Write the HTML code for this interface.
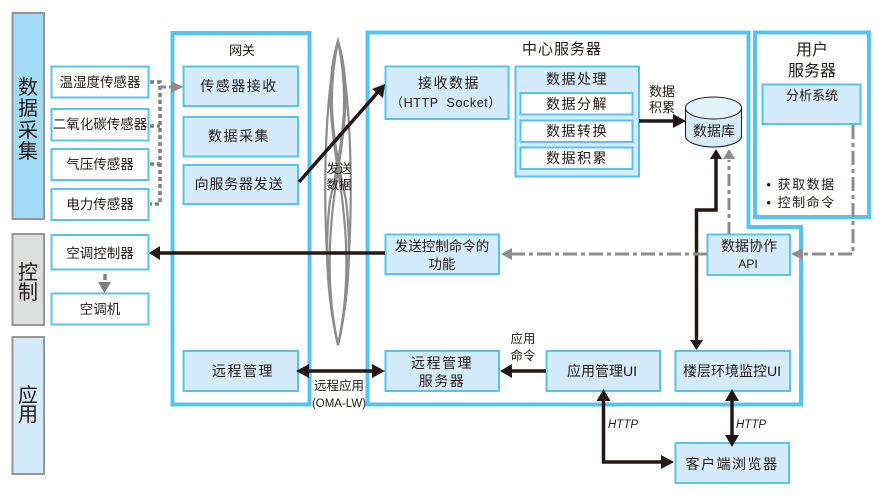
<!DOCTYPE html>
<html><head><meta charset="utf-8"><style>
html,body{margin:0;padding:0;background:#fff}
svg{display:block}
text{font-family:"Liberation Sans","WenQuanYi Zen Hei","Noto Sans CJK SC",sans-serif;fill:#231815;text-anchor:middle;font-size:14px}
.b{fill:#d3ebfa;stroke:#58c3f0;stroke-width:2}
.w{fill:#fff;stroke:#58c3f0;stroke-width:2}
.o{fill:none;stroke:#56c4f3;stroke-width:4}
.s{stroke:#969696;stroke-width:2}
.k{fill:none;stroke:#231815;stroke-width:3.500}
.g{fill:none;stroke:#8c8c8c;stroke-width:3}
.af{fill:#231815}.ag{fill:#8c8c8c}
.l{letter-spacing:1.5px}
.st{font-size:20px}
</style></head><body>
<svg width="886" height="500" viewBox="0 0 886 500" xmlns="http://www.w3.org/2000/svg">
<rect width="886" height="500" fill="#fff"/>
<!-- strips -->
<rect class="s" x="12.500" y="13" width="31.500" height="206" fill="#a3daf6"/>
<rect class="s" x="12.500" y="234" width="31.500" height="91" fill="#dcdddd"/>
<rect class="s" x="12.500" y="337" width="31.500" height="137" fill="#d3ebfa"/>
<text class="st" x="28" y="94">数</text><text class="st" x="28" y="115">据</text><text class="st" x="28" y="137">采</text><text class="st" x="28" y="158">集</text>
<text class="st" x="28" y="279">控</text><text class="st" x="28" y="299">制</text>
<text class="st" x="28" y="402">应</text><text class="st" x="28" y="421">用</text>
<!-- outer frames -->
<rect class="o" x="172.500" y="33" width="137" height="371.500"/>
<path class="o" d="M367.500 32.500H748.500V227H801V404.500H367.500Z"/>
<rect class="o" x="755" y="32.500" width="114" height="184.500"/>
<!-- lens -->
<g fill="none" stroke="#8c8c8c" stroke-width="2.200">
<path d="M338 41C320 110 322 280 338 345C354 280 356 110 338 41Z"/>
<path d="M338 41C326 80 330 120 338 170C346 220 352 280 338 345C324 280 330 220 338 170C346 120 350 80 338 41Z"/>
<path d="M338 41C328 90 330 130 346 200C353 260 346 310 338 345C330 310 323 260 330 200C346 130 348 90 338 41Z"/>
</g>
<!-- left boxes -->
<rect class="w" x="51.500" y="66.500" width="97" height="31"/>
<rect class="w" x="51.500" y="109" width="97" height="31.500"/>
<rect class="w" x="51.500" y="149" width="97" height="31"/>
<rect class="w" x="51.500" y="189" width="97" height="31"/>
<rect class="w" x="51.500" y="235" width="97" height="34.500"/>
<rect class="w" x="51.500" y="293.500" width="97" height="31"/>
<text x="100" y="87" style="font-size:13.500px">温湿度传感器</text>
<text x="100" y="129" style="font-size:13.500px">二氧化碳传感器</text>
<text x="100" y="169" style="font-size:13.500px">气压传感器</text>
<text x="100" y="209" style="font-size:13.500px">电力传感器</text>
<text x="100" y="258" style="font-size:13.500px">空调控制器</text>
<text x="100" y="314" style="font-size:13.500px">空调机</text>
<!-- gateway boxes -->
<text x="242" y="55" style="font-size:13px">网关</text>
<rect class="b" x="183.500" y="66.500" width="114.500" height="39.500"/>
<rect class="b" x="183.500" y="117" width="114.500" height="39.500"/>
<rect class="b" x="183.500" y="165" width="114.500" height="39"/>
<rect class="b" x="183.500" y="351" width="114.500" height="40"/>
<text x="239" y="91" class="l">传感器接收</text>
<text x="239" y="141" class="l">数据采集</text>
<text x="239" y="189" style="letter-spacing:.8px">向服务器发送</text>
<text x="243" y="376" class="l">远程管理</text>
<!-- center -->
<text x="562" y="54" style="font-size:15px;letter-spacing:1px">中心服务器</text>
<rect class="b" x="385.500" y="66.500" width="123" height="52.500"/>
<text x="449" y="88" class="l">接收数据</text>
<text x="446" y="107" style="font-size:12.500px;letter-spacing:.6px" xml:space="preserve">（HTTP  Socket）</text>
<rect class="b" x="515.500" y="66.500" width="123.500" height="110"/>
<text x="577" y="84" class="l">数据处理</text>
<rect class="w" x="520.500" y="93" width="112" height="21.500"/>
<rect class="w" x="520.500" y="120.500" width="112" height="21.500"/>
<rect class="w" x="520.500" y="147.500" width="112" height="21.500"/>
<text x="577" y="109" class="l">数据分解</text>
<text x="577" y="136" class="l">数据转换</text>
<text x="577" y="163" class="l">数据积累</text>
<text x="662" y="96" style="font-size:13px">数据</text>
<text x="662" y="112" style="font-size:13px">积累</text>
<!-- db -->
<path d="M685.500 108V136C685.500 142 698 147 713.500 147C729 147 741.500 142 741.500 136V108Z" fill="#d3ebfa" stroke="#231815" stroke-width="1"/>
<ellipse cx="713.500" cy="108" rx="28" ry="11" fill="#e3f3fc" stroke="#231815" stroke-width="1"/>
<text x="714" y="136" style="font-size:14px">数据库</text>
<!-- user server -->
<text x="812" y="55" style="font-size:16px">用户</text>
<text x="812" y="76" style="font-size:16px">服务器</text>
<rect class="b" x="762.500" y="84.500" width="98" height="39.500"/>
<text x="812" y="100" style="font-size:13px">分析系统</text>
<text x="801" y="189" style="font-size:13px" class="l">• 获取数据</text>
<text x="801" y="207" style="font-size:13px" class="l">• 控制命令</text>
<!-- lower center -->
<rect class="b" x="385.500" y="234.500" width="113.500" height="39.500"/>
<text x="442" y="251" style="font-size:13.500px">发送控制命令的</text>
<text x="442" y="269" style="font-size:13.500px">功能</text>
<rect class="b" x="707.500" y="234.500" width="82.500" height="40.500"/>
<text x="749" y="251" style="font-size:14px">数据协作</text>
<text x="748" y="268" style="font-size:12px">API</text>
<rect class="b" x="385.500" y="351" width="113.500" height="40"/>
<text x="442" y="368" class="l">远程管理</text>
<text x="442" y="386" class="l">服务器</text>
<rect class="b" x="546.500" y="351" width="113.500" height="40"/>
<text x="602" y="376" style="font-size:14px">应用管理UI</text>
<rect class="b" x="675.500" y="351" width="114.500" height="40"/>
<text x="732" y="376" style="font-size:14px">楼层环境监控UI</text>
<rect class="b" x="675.500" y="443" width="113.500" height="40"/>
<text x="732" y="469" class="l">客户端浏览器</text>
<!-- labels -->
<text x="339" y="173" style="font-size:12.500px">发送</text>
<text x="339" y="189" style="font-size:12.500px">数据</text>
<text x="339" y="390" style="font-size:12.500px">远程应用</text>
<text x="339" y="407" style="font-size:11.500px">(OMA-LW)</text>
<text x="523" y="343" style="font-size:12.500px">应用</text>
<text x="523" y="360" style="font-size:12.500px">命令</text>
<text x="623" y="428" style="font-size:11.500px;font-style:italic">HTTP</text>
<text x="751" y="428" style="font-size:11.500px;font-style:italic">HTTP</text>
<!-- dotted sensors -->
<g fill="none" stroke="#7f7f7f" stroke-width="3.500" stroke-dasharray="4 3">
<path d="M150 82H160V204H150"/>
<path d="M150 126H160"/><path d="M150 164H160"/>
</g>
<path d="M160 87H172" stroke="#8c8c8c" stroke-width="3" stroke-dasharray="6 3" fill="none"/>
<polygon class="ag" points="183,87 171,81 171,93"/>
<!-- air conditioner arrow -->
<path d="M105 274V280" stroke="#7f7f7f" stroke-width="3.500" fill="none"/>
<polygon fill="#7f7f7f" points="98,282 111,282 104.500,293"/>
<!-- black arrows -->
<path class="k" d="M299 182L378 92"/>
<polygon class="af" points="385,84 383,98 372,89"/>
<path class="k" d="M158 253H385"/>
<polygon class="af" points="149,253 160,246 160,260"/>
<path class="k" d="M305 371H376"/>
<polygon class="af" points="296,371 309,364 309,378"/>
<polygon class="af" points="385,371 372,364 372,378"/>
<path class="k" d="M639 121H676"/>
<polygon class="af" points="686,121 673,114 673,128"/>
<path class="k" d="M716 156V210H696.500V343"/>
<polygon class="af" points="716,149 710,159 722,159"/>
<polygon class="af" points="696.500,350 690,340 703,340"/>
<path class="k" d="M510 371H546"/>
<polygon class="af" points="500,371 512,364 512,378"/>
<path class="k" d="M603.500 400V462H665"/>
<polygon class="af" points="603.500,389 596.500,401 610.500,401"/>
<polygon class="af" points="674,462 661,455 661,469"/>
<path class="k" d="M732 398V436"/>
<polygon class="af" points="732,389 725,401 739,401"/>
<polygon class="af" points="732,447 725,435 739,435"/>
<!-- gray dash-dot -->
<path class="g" d="M707 254H510" stroke-dasharray="14 4 4 4"/>
<polygon class="ag" points="501,254 512,248 512,260"/>
<path class="g" d="M729 234V160" stroke-dasharray="12 4 4 4"/>
<polygon class="ag" points="729,149 723,159 735,159"/>
<path class="g" d="M853 125V254H802" stroke-dasharray="14 4 4 4"/>
<polygon class="ag" points="791,254 803,248 803,260"/>
</svg>
</body></html>
